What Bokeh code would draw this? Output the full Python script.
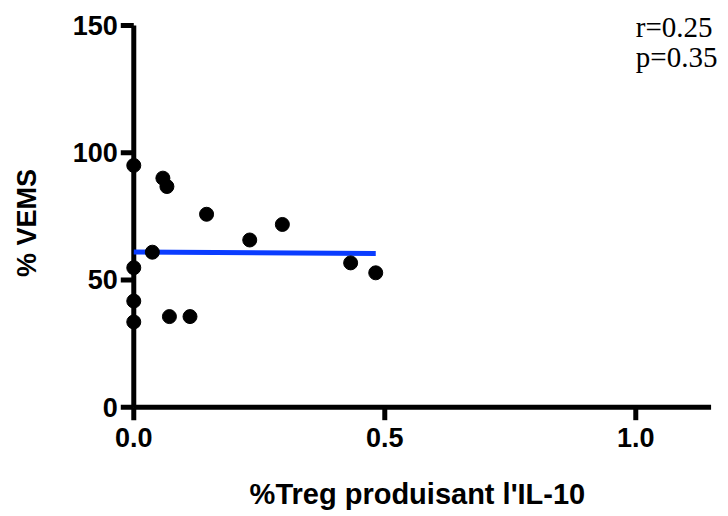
import math
from bokeh.plotting import figure
from bokeh.models import Range1d, Label, ColumnDataSource
from bokeh.core.properties import value
from bokeh.embed import file_html
from bokeh.resources import INLINE

# Data
treg_il10 = [0.0, 0.058, 0.066, 0.145, 0.231, 0.296, 0.037, 0.0, 0.0, 0.0, 0.071, 0.112, 0.432, 0.482]
vems = [95.0, 90.0, 86.7, 75.8, 65.7, 71.8, 60.9, 54.8, 41.7, 33.5, 35.6, 35.6, 56.7, 52.8]
fit_x = [0.0, 0.482]
fit_y = [61.0, 60.4]
x_ticks = [0.0, 0.5, 1.0]
x_tick_labels = ["0.0", "0.5", "1.0"]
y_ticks = [0, 50, 100, 150]
y_tick_labels = ["0", "50", "100", "150"]
stats_text = ["r=0.25", "p=0.35"]
stats_y = [149.4, 137.6]
x_max = 1.15
y_max = 150

SANS = "Liberation Sans"
SERIF = "Liberation Serif"

p = figure(width=728, height=516,
           x_range=Range1d(-0.2655, 1.1847), y_range=Range1d(-42.95, 159.8),
           x_axis_location=None, y_axis_location=None,
           output_backend="svg", toolbar_location=None,
           min_border_left=0, min_border_right=0,
           min_border_top=0, min_border_bottom=0)

p.outline_line_color = None
p.xgrid.grid_line_color = None
p.ygrid.grid_line_color = None
p.background_fill_color = "white"
p.border_fill_color = "white"

AX = dict(line_color="black", line_width=5)
TICK_FONT = dict(text_font=value(SANS), text_font_style="bold",
                 text_font_size="27px", text_color="black")

# y axis at x = 0 (points lying on x = 0 are centred on it)
p.segment(x0=[0], y0=[0], x1=[0], y1=[y_max], **AX)
p.ray(x=[0] * len(y_ticks), y=y_ticks, length=13, length_units="screen",
      angle=math.pi, **AX)
p.text(x=[0] * len(y_ticks), y=y_ticks, text=y_tick_labels, x_offset=-16,
       text_align="right", text_baseline="middle", **TICK_FONT)
p.add_layout(Label(x=-0.212, y=72.4, text="% VEMS", angle=math.pi / 2,
                   text_align="center", text_baseline="middle",
                   text_font=SANS, text_font_style="bold", text_font_size="27px",
                   text_color="black"))

# x axis at y = 0
p.segment(x0=[0], y0=[0], x1=[x_max], y1=[0], **AX)
p.ray(x=x_ticks, y=[0] * len(x_ticks), length=13, length_units="screen",
      angle=-math.pi / 2, **AX)
p.text(x=x_ticks, y=[0] * len(x_ticks), text=x_tick_labels, y_offset=21,
       text_align="center", text_baseline="top", **TICK_FONT)
p.add_layout(Label(x=0.565, y=-34.2, text="%Treg produisant l'IL-10",
                   text_align="center", text_baseline="middle",
                   text_font=SANS, text_font_style="bold", text_font_size="29px",
                   text_color="black"))

# data
src = ColumnDataSource(dict(x=treg_il10, y=vems))
p.line(fit_x, fit_y, line_color="#0a3cff", line_width=5)
p.scatter("x", "y", source=src, size=14, fill_color="black", line_color="black")

for t, yy in zip(stats_text, stats_y):
    p.add_layout(Label(x=1.0, y=yy, text=t, text_baseline="middle",
                       text_font=SERIF, text_font_size="29px", text_color="black"))

open("out.html", "w").write(file_html(p, INLINE))
